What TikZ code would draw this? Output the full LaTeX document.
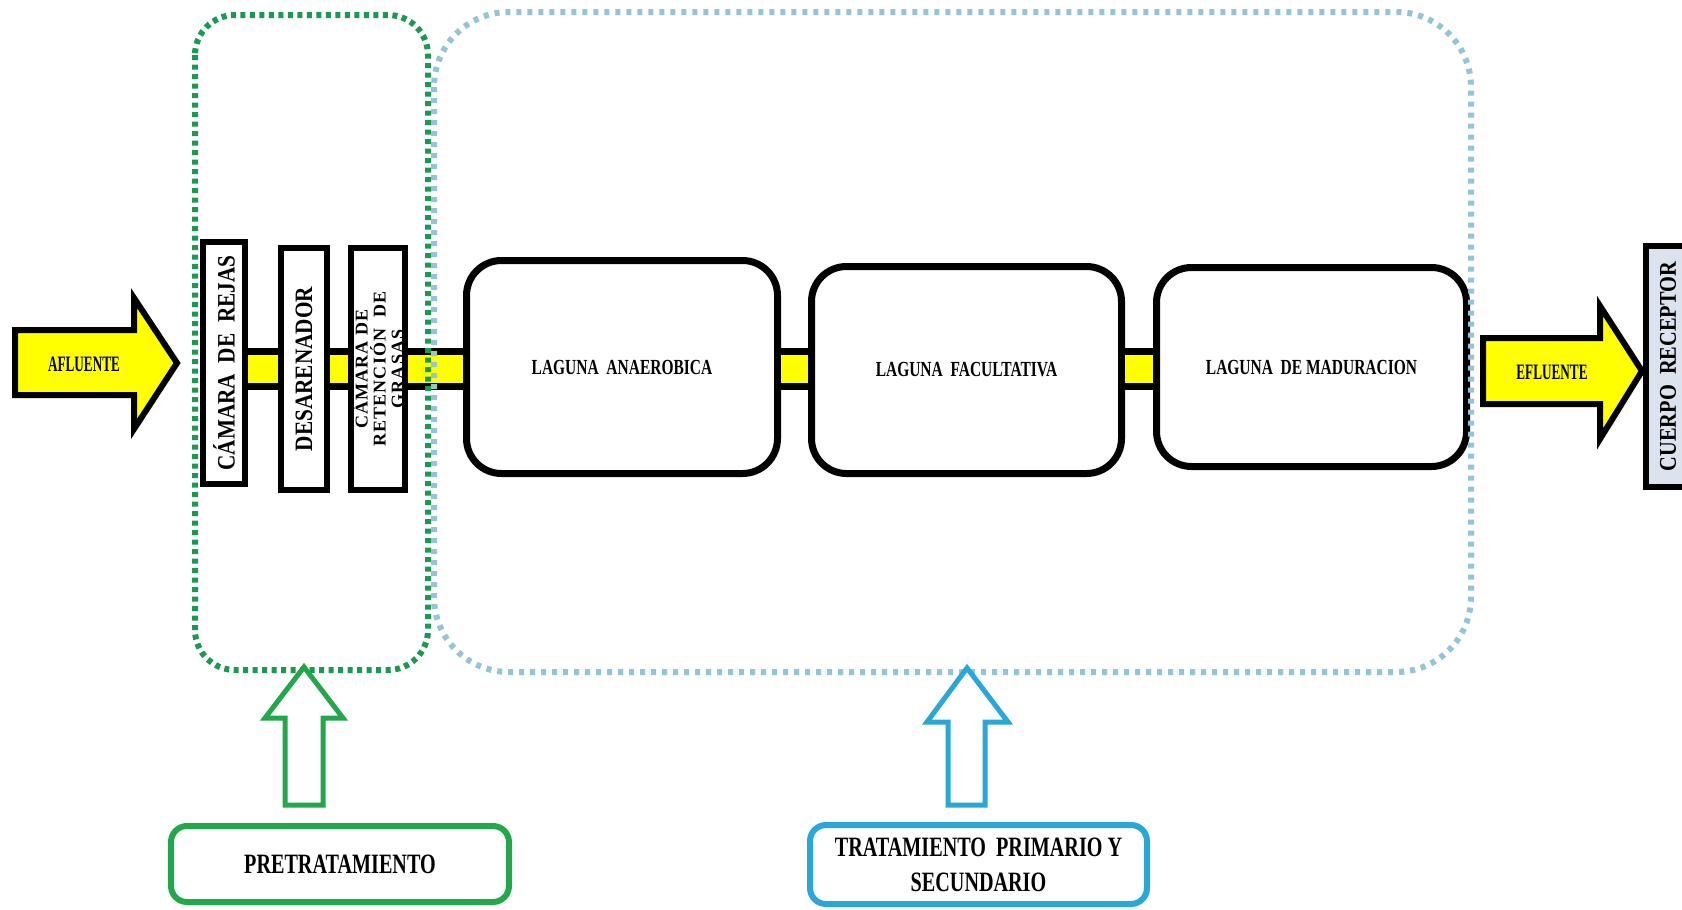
\documentclass[tikz,border=0pt]{standalone}
\usepackage{fontspec}
\setmainfont{Liberation Serif}[FakeStretch=0.72]
\newfontfamily\vfont{Liberation Serif}[FakeStretch=0.85]
\newfontfamily\nfont{Liberation Serif}[FakeStretch=0.6]
\newfontfamily\wfont{Liberation Serif}[LetterSpace=6]
\definecolor{ylw}{RGB}{255,255,0}
\definecolor{gdotc}{RGB}{26,153,80}
\definecolor{grn}{RGB}{34,168,75}
\definecolor{bdotc}{RGB}{147,197,213}
\definecolor{blu}{RGB}{42,167,217}
\definecolor{cuerpoc}{RGB}{220,227,238}
\begin{document}
\begin{tikzpicture}[x=1pt,y=-1pt,
  blk/.style={draw=black, line width=6pt, fill=white, inner sep=0pt, font=\vfont\bfseries\fontsize{25}{27}\selectfont},
  lag/.style={draw=black, line width=7pt, fill=white, rounded corners=35pt, font=\bfseries\fontsize{21.5}{24}\selectfont},
  yarrow/.style={draw=black, line width=6pt, fill=ylw, line join=miter},
  pipe/.style={draw=black, line width=7pt, double=ylw, double distance=28pt},
  gdot/.style={draw=gdotc, line width=6pt, dash pattern=on 5pt off 4.5pt, rounded corners=40pt},
  bdot/.style={draw=bdotc, line width=6pt, dash pattern=on 5pt off 6pt, rounded corners=75pt},
  garrow/.style={draw=grn, line width=5pt, fill=white, line join=miter},
  barrow/.style={draw=blu, line width=5pt, fill=white, line join=miter},
  lbl/.style={font=\nfont\bfseries\fontsize{22}{24}\selectfont, inner sep=0pt},
  tbox/.style={line width=6pt, fill=white, rounded corners=16pt, align=center, font=\bfseries\fontsize{28}{35}\selectfont}
]
\clip (0,0) rectangle (1682,910);
\fill[white] (0,0) rectangle (1682,910);
\coordinate (py) at (0,369);

% inflow arrow
\draw[yarrow] (15,330) -- (134,330) -- (134,298) -- (177,363) -- (134,429) -- (134,395) -- (15,395) -- cycle;
\node[lbl] (afl) at (84,364) {AFLUENTE};

% pretreatment units
\node[blk, rotate=90, minimum width=242pt, minimum height=42pt] (rejas) at (224,363) {CÁMARA\ \ DE\ \ REJAS};
\node[blk, rotate=90, minimum width=242pt, minimum height=46pt] (desar) at (304,369) {DESARENADOR};
\node[blk, rotate=90, minimum width=242pt, minimum height=54pt, align=center, font=\wfont\bfseries\fontsize{18}{18}\selectfont] (reten) at (378,369) {CÁMARA DE\\RETENCIÓN\ \ DE\\GRASAS};

% lagoons
\node[lag, minimum width=311pt, minimum height=213pt] (anae) at (622,367) {LAGUNA\ \ ANAEROBICA};
\node[lag, minimum width=310pt, minimum height=207pt] (facu) at (966.5,370) {LAGUNA\ \ FACULTATIVA};
\node[lag, minimum width=310pt, minimum height=199pt] (madu) at (1311.5,367) {LAGUNA\ \ DE\ MADURACION};

% pipes
\draw[pipe] (rejas.south |- py) -- (desar.north |- py);
\draw[pipe] (desar.south |- py) -- (reten.north |- py);
\draw[pipe] (reten.south |- py) -- (anae.west |- py);
\draw[pipe] (anae.east |- py) -- (facu.west |- py);
\draw[pipe] (facu.east |- py) -- (madu.west |- py);

% outflow arrow and receiving body
\draw[yarrow] (1483,338) -- (1600,338) -- (1600,306) -- (1642,371) -- (1600,439) -- (1600,404) -- (1483,404) -- cycle;
\node[lbl] (efl) at (1552,372) {EFLUENTE};
\node[blk, rotate=90, fill=cuerpoc, minimum width=241pt, minimum height=44pt, font=\vfont\bfseries\fontsize{24}{26}\selectfont] (cuerpo) at (1668,366.5) {CUERPO\ \ RECEPTOR};

% dotted groups
\draw[gdot] (195,15) rectangle (428,670);
\draw[bdot] (434,12) rectangle (1471,672);

% up arrows
\draw[garrow] (304,667) -- (343,718) -- (323,718) -- (323,805) -- (285,805) -- (285,718) -- (265,718) -- cycle;
\draw[barrow] (967,668) -- (1008,722) -- (985,722) -- (985,805) -- (948,805) -- (948,722) -- (927,722) -- cycle;

% label boxes
\node[tbox, draw=grn, minimum width=338pt, minimum height=76pt] (pre) at (340,864) {PRETRATAMIENTO};
\node[tbox, draw=blu, minimum width=337pt, minimum height=79pt] (trat) at (978.5,864.5) {TRATAMIENTO\ \ PRIMARIO Y\\SECUNDARIO};
\end{tikzpicture}
\end{document}
